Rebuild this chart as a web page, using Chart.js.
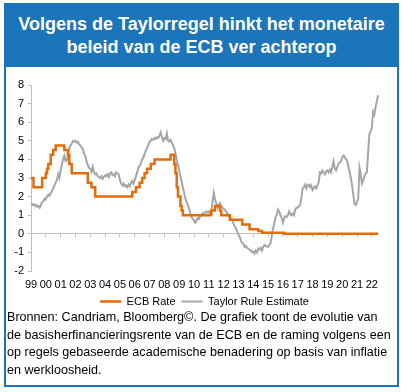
<!DOCTYPE html>
<html>
<head>
<meta charset="utf-8">
<script src="https://cdn.jsdelivr.net/npm/chart.js"></script>
<style>
  body { margin: 0; width: 404px; height: 392px; background: #fff; overflow: hidden;
         font-family: "Liberation Sans", Arial, sans-serif; }
  #kader { position: absolute; left: 4px; top: 3px; width: 395px; height: 384px;
           box-sizing: border-box; border: 2px solid #1a75bb; }
  #titel { position: absolute; left: 4px; top: 3px; width: 395px; height: 64px;
           background: #1a75bb; color: #fff; font-weight: bold; font-size: 18px;
           line-height: 23px; text-align: center; padding-top: 10px; box-sizing: border-box; }
  #grafiek { position: absolute; left: 0; top: 70px; width: 404px; height: 249px; }
  #bron { position: absolute; left: 7px; top: 309px; font-size: 12.6px; line-height: 17.6px;
          color: #000; white-space: nowrap; }
</style>
</head>
<body>
<div id="kader"></div>
<div id="titel">Volgens de Taylorregel hinkt het monetaire<br>beleid van de ECB ver achterop</div>
<div id="grafiek"><canvas id="grafiekCanvas"></canvas></div>
<div id="bron">Bronnen: Candriam, Bloomberg©. De grafiek toont de evolutie van<br>de basisherfinancieringsrente van de ECB en de raming volgens een<br>op regels gebaseerde academische benadering op basis van inflatie<br>en werkloosheid.</div>

<script>
// jaarlabels op de x-as (elk januari)
const jaren = ["99","00","01","02","03","04","05","06","07","08","09","10",
               "11","12","13","14","15","16","17","18","19","20","21","22"];

// maandelijkse punten, jan 1999 t/m jun 2022
const maanden = [];
for (let j = 1999; j <= 2022; j++) {
  for (let m = 1; m <= 12; m++) {
    if (j === 2022 && m > 6) break;
    maanden.push(j + "-" + m);
  }
}

const ecbRate = [
  3, 3, 3, 2.5, 2.5, 2.5, 2.5, 2.5, 2.5, 2.5, 3, 3,
  3, 3.25, 3.5, 3.75, 3.75, 4.25, 4.25, 4.5, 4.5, 4.75, 4.75, 4.75,
  4.75, 4.75, 4.75, 4.75, 4.5, 4.5, 4.5, 4.25, 3.75, 3.75, 3.25, 3.25,
  3.25, 3.25, 3.25, 3.25, 3.25, 3.25, 3.25, 3.25, 3.25, 3.25, 3.25, 2.75,
  2.75, 2.75, 2.5, 2.5, 2.5, 2, 2, 2, 2, 2, 2, 2,
  2, 2, 2, 2, 2, 2, 2, 2, 2, 2, 2, 2,
  2, 2, 2, 2, 2, 2, 2, 2, 2, 2, 2, 2.25,
  2.25, 2.25, 2.5, 2.5, 2.5, 2.75, 2.75, 3, 3, 3.25, 3.25, 3.5,
  3.5, 3.5, 3.75, 3.75, 3.75, 4, 4, 4, 4, 4, 4, 4,
  4, 4, 4, 4, 4, 4, 4.25, 4.25, 4.25, 3.75, 3.25, 2.5,
  2, 2, 1.5, 1.25, 1, 1, 1, 1, 1, 1, 1, 1,
  1, 1, 1, 1, 1, 1, 1, 1, 1, 1, 1, 1,
  1, 1, 1, 1.25, 1.25, 1.25, 1.5, 1.5, 1.5, 1.5, 1.25, 1,
  1, 1, 1, 1, 1, 1, 0.75, 0.75, 0.75, 0.75, 0.75, 0.75,
  0.75, 0.75, 0.75, 0.75, 0.5, 0.5, 0.5, 0.5, 0.5, 0.5, 0.25, 0.25,
  0.25, 0.25, 0.25, 0.25, 0.25, 0.15, 0.15, 0.15, 0.05, 0.05, 0.05, 0.05,
  0.05, 0.05, 0.05, 0.05, 0.05, 0.05, 0.05, 0.05, 0.05, 0.05, 0.05, 0.05,
  0.05, 0.05, 0, 0, 0, 0, 0, 0, 0, 0, 0, 0,
  0, 0, 0, 0, 0, 0, 0, 0, 0, 0, 0, 0,
  0, 0, 0, 0, 0, 0, 0, 0, 0, 0, 0, 0,
  0, 0, 0, 0, 0, 0, 0, 0, 0, 0, 0, 0,
  0, 0, 0, 0, 0, 0, 0, 0, 0, 0, 0, 0,
  0, 0, 0, 0, 0, 0, 0, 0, 0, 0, 0, 0,
  0, 0, 0, 0, 0, 0
];

const taylorRule = [
  1.6, 1.55, 1.6, 1.5, 1.55, 1.45, 1.5, 1.4, 1.55, 1.7, 1.75, 1.9,
  1.85, 2.0, 2.1, 2.05, 2.2, 2.3, 2.45, 2.6, 2.75, 2.9, 3.2, 3.0,
  3.45, 3.7, 4.05, 4.2, 3.9, 3.95, 4.3, 4.6, 4.75, 4.85, 5.0, 4.95,
  5.0, 4.9, 4.95, 4.8, 4.75, 4.65, 4.55, 4.3, 4.2, 3.9, 3.7, 3.55,
  3.5, 3.35, 3.6, 3.3, 3.2, 3.25, 3.1, 3.05, 3.0, 3.1, 2.95, 3.05,
  3.15, 3.1, 3.2, 3.05, 3.25, 3.3, 3.15, 3.2, 3.1, 3.3, 3.25, 3.2,
  2.9, 2.7, 2.6, 2.7, 2.55, 2.6, 2.5, 2.65, 2.55, 2.75, 2.85, 2.7,
  2.9, 3.1, 3.3, 3.55, 3.65, 3.8, 4.0, 4.1, 4.3, 4.5, 4.6, 4.8,
  4.95, 5.0, 5.1, 5.05, 5.15, 5.1, 5.2, 5.15, 5.25, 5.45, 5.2, 5.0,
  5.15, 5.1, 5.4, 5.0, 4.95, 5.05, 4.9, 4.75, 4.6, 4.35, 4.0, 3.7,
  3.4, 3.1, 2.8, 2.5, 2.2, 1.9, 1.7, 1.55, 1.35, 1.1, 0.9, 0.8,
  0.75, 0.6, 0.7, 0.85, 0.8, 0.95, 1.0, 1.1, 1.05, 1.15, 1.2, 1.15,
  1.2, 1.1, 1.15, 1.7, 2.2, 1.85, 1.65, 1.4, 1.55, 1.65, 1.5, 1.4,
  1.35, 1.3, 1.2, 1.1, 1.0, 0.9, 0.8, 0.75, 0.55, 0.4, 0.3, 0.1,
  -0.05, -0.15, -0.35, -0.5, -0.55, -0.7, -0.65, -0.75, -0.8, -0.85, -0.9, -1.0,
  -0.95, -1.05, -0.9, -1.0, -0.8, -0.85, -0.75, -0.9, -0.7, -0.6, -0.65, -0.7,
  -0.7, -0.6, -0.5, -0.1, 0.3, 0.55, 0.9, 1.0, 1.3, 1.2, 1.0, 0.85,
  0.6, 0.85, 0.95, 0.9, 1.0, 1.2, 1.05, 1.0, 1.1, 1.0, 1.3, 1.4,
  1.4, 1.5, 1.55, 1.95, 2.45, 2.5, 2.65, 2.45, 2.6, 2.65, 2.5, 2.6,
  2.35, 2.45, 2.55, 2.45, 2.6, 2.8, 3.3, 3.25, 3.4, 3.3, 3.2, 3.35,
  3.4, 3.3, 3.45, 3.3, 3.6, 3.9, 3.5, 3.4, 3.6, 3.75, 3.85, 3.9,
  4.1, 4.2, 4.15, 4.0, 3.95, 3.6, 3.35, 3.0, 2.6, 2.1, 1.6, 1.55,
  1.7, 1.9, 3.55, 3.2, 2.7, 2.85, 3.1, 3.25, 3.3, 4.4, 5.35, 5.5,
  5.7, 6.55, 6.4, 6.8, 7.1, 7.45
];

const asKleur = "#bfbfbf";
Chart.defaults.font.family = '"Liberation Sans", Arial, sans-serif';
Chart.defaults.font.size = 11;
Chart.defaults.color = "#000";

new Chart(document.getElementById("grafiekCanvas"), {
  type: "line",
  data: {
    labels: maanden,
    datasets: [
      {
        label: "ECB Rate",
        data: ecbRate,
        borderColor: "#e46c0a",
        backgroundColor: "#e46c0a",
        borderWidth: 2.5,
        stepped: "after",
        pointRadius: 0
      },
      {
        label: "Taylor Rule Estimate",
        data: taylorRule,
        borderColor: "#a6a6a6",
        backgroundColor: "#a6a6a6",
        borderWidth: 2,
        tension: 0,
        pointRadius: 0
      }
    ]
  },
  options: {
    responsive: true,
    maintainAspectRatio: false,
    animation: false,
    devicePixelRatio: 1,
    layout: { padding: { top: 15, left: 7, right: 26, bottom: 2 } },
    plugins: {
      tooltip: { enabled: false },
      legend: {
        position: "bottom",
        fullSize: false,
        labels: {
          usePointStyle: true,
          pointStyle: "line",
          pointStyleWidth: 21,
          padding: 6,
          color: "#000"
        }
      }
    },
    scales: {
      x: {
        grid: { display: false },
        border: { display: false },
        ticks: {
          autoSkip: false,
          maxRotation: 0,
          minRotation: 0,
          padding: 0,
          font: { lineHeight: 1 },
          callback: (v, i) => (i % 12 === 0 ? jaren[i / 12] : "")
        }
      },
      x2: {
        axis: "x",
        type: "category",
        position: { y: 0 },
        ticks: { display: false },
        grid: {
          drawOnChartArea: false,
          drawTicks: true,
          tickLength: 3,
          color: (ctx) => (ctx.index % 12 === 0 ? asKleur : "rgba(0,0,0,0)")
        },
        border: { color: asKleur }
      },
      y: {
        min: -2,
        max: 8,
        ticks: { stepSize: 1, padding: 4 },
        grid: { drawOnChartArea: false, tickLength: 3, color: asKleur },
        border: { color: asKleur },
        afterFit: (s) => { s.width = 24; }
      }
    }
  }
});
</script>
</body>
</html>
